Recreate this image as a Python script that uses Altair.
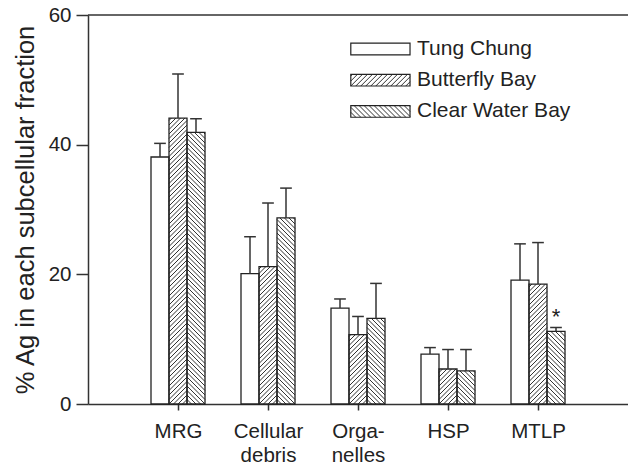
import json
import altair as alt
import pandas as pd

# ---------------- data ----------------
fractions = ["MRG", "Cellular\ndebris", "Orga-\nnelles", "HSP", "MTLP"]
sites = ["Tung Chung", "Butterfly Bay", "Clear Water Bay"]
site_hatch = ["", "/", "\\"]

tung_mean = [38.1, 20.1, 14.8, 7.7, 19.1]
tung_err = [2.1, 5.7, 1.4, 1.0, 5.6]
butterfly_mean = [44.1, 21.2, 10.7, 5.4, 18.5]
butterfly_err = [6.8, 9.8, 2.8, 3.0, 6.4]
clear_mean = [41.9, 28.7, 13.2, 5.1, 11.2]
clear_err = [2.1, 4.6, 5.4, 3.3, 0.6]

# significance marker: (fraction index, site index, text)
signif = [(4, 2, "*")]

y_ticks = [0, 20, 40, 60]
y_title = "% Ag in each subcellular fraction"

# ---------------- layout ----------------
W, H = 540, 389
X_MAX, Y_MAX = 6, 60
SX, SY = W / X_MAX, H / Y_MAX
BAR_W = 0.2
CAP = 0.065
FONT = "Liberation Sans"
INK = "#222222"

means = [tung_mean, butterfly_mean, clear_mean]
errs = [tung_err, butterfly_err, clear_err]

rows = []
for j, s in enumerate(sites):
    for i, f in enumerate(fractions):
        c = (i + 1) + (j - 1) * BAR_W
        rows.append(dict(site=s, hatch=site_hatch[j], frac=f, xc=c,
                         x0=c - BAR_W / 2, x1=c + BAR_W / 2,
                         mean=means[j][i], top=means[j][i] + errs[j][i],
                         c0=c - CAP, c1=c + CAP, base=0.0))
bars = pd.DataFrame(rows)

# legend (in data units of the plot)
LEG_X0, LEG_X1, LEG_TX = 2.92, 3.578, 3.656
LEG_TOP, LEG_STEP, LEG_H = 54.76, 4.82, 1.79
leg = pd.DataFrame([dict(site=s, hatch=site_hatch[j], x0=LEG_X0, x1=LEG_X1,
                         yc=LEG_TOP - j * LEG_STEP,
                         y0=LEG_TOP - j * LEG_STEP - LEG_H / 2,
                         y1=LEG_TOP - j * LEG_STEP + LEG_H / 2, tx=LEG_TX)
                    for j, s in enumerate(sites)])


def hatch_lines(x0, x1, y0, y1, kind, step):
    w = (x1 - x0) * SX
    h = (y1 - y0) * SY
    out = []
    if kind == "/":
        k = int(-h // step)
        while k * step < w:
            c = k * step
            a, b = max(0.0, c), min(w, h + c)
            if b > a:
                out.append((a, a - c, b, b - c))
            k += 1
    elif kind == "\\":
        k = 1
        while k * step < w + h:
            c = k * step
            a, b = max(0.0, c - h), min(w, c)
            if b > a:
                out.append((a, c - a, b, c - b))
            k += 1
    return [dict(hx0=x0 + p / SX, hy0=y0 + q / SY, hx1=x0 + r / SX, hy1=y0 + t / SY)
            for p, q, r, t in out]


hrows = []
for _, r in bars.iterrows():
    hrows += hatch_lines(r.x0, r.x1, 0.0, r["mean"], r.hatch, 4.5)
for _, r in leg.iterrows():
    hrows += hatch_lines(r.x0, r.x1, r.y0, r.y1, r.hatch, 5.0)
hatch = pd.DataFrame(hrows)

sig = pd.DataFrame([dict(x=(i + 1) + (j - 1) * BAR_W,
                         y=means[j][i] + errs[j][i] + 0.5, t=t)
                    for i, j, t in signif])

frame = pd.DataFrame([dict(x0=0, x1=X_MAX, y=Y_MAX)])

# ---------------- scales / axes ----------------
label_lists = json.dumps([f.split("\n") for f in fractions])
xs = alt.Scale(domain=[0, X_MAX], nice=False, zero=False)
ys = alt.Scale(domain=[0, Y_MAX], nice=False)

x_axis = alt.Axis(values=list(range(1, len(fractions) + 1)), title=None,
                  labelExpr=f"{label_lists}[datum.value - 1]",
                  labelFontSize=20.5, labelFont=FONT, labelColor=INK,
                  labelLineHeight=24, labelPadding=11, tickSize=6,
                  tickColor="#333", tickWidth=1.5, domainColor="#333",
                  domainWidth=1.5, grid=False, labelAngle=0)
y_axis = alt.Axis(values=y_ticks, title=y_title, titleFont=FONT,
                  titleFontSize=25.5, titleFontWeight="normal", titleColor=INK,
                  titleX=-55, titleY=H / 2, titleAlign="center",
                  titleBaseline="alphabetic", titleAngle=270,
                  labelFontSize=20.5, labelFont=FONT, labelColor=INK,
                  labelPadding=5, tickSize=12, tickColor="#333", tickWidth=1.5,
                  domainColor="#333", domainWidth=1.5, grid=False)

base = alt.Chart(bars)

fills = base.mark_rect(fill="white", strokeWidth=0).encode(
    x=alt.X("x0:Q", scale=xs, axis=x_axis), x2="x1:Q",
    y=alt.Y("mean:Q", scale=ys, axis=y_axis), y2="base:Q")

hatch_layer = alt.Chart(hatch).mark_rule(color="#333", strokeWidth=1).encode(
    x=alt.X("hx0:Q", scale=xs), x2="hx1:Q",
    y=alt.Y("hy0:Q", scale=ys), y2="hy1:Q")

outlines = base.mark_rect(fill=None, stroke=INK, strokeWidth=1.3).encode(
    x=alt.X("x0:Q", scale=xs), x2="x1:Q",
    y=alt.Y("mean:Q", scale=ys), y2="base:Q")

whisk = base.mark_rule(color="#333", strokeWidth=1.5).encode(
    x=alt.X("xc:Q", scale=xs), y=alt.Y("mean:Q", scale=ys), y2="top:Q")
caps = base.mark_rule(color="#333", strokeWidth=1.5).encode(
    x=alt.X("c0:Q", scale=xs), x2="c1:Q", y=alt.Y("top:Q", scale=ys))

stars = alt.Chart(sig).mark_text(font=FONT, fontSize=22, color=INK,
                                 baseline="alphabetic", align="center").encode(
    x=alt.X("x:Q", scale=xs), y=alt.Y("y:Q", scale=ys), text="t:N")

top_line = alt.Chart(frame).mark_rule(color="#333", strokeWidth=1.5).encode(
    x=alt.X("x0:Q", scale=xs), x2="x1:Q", y=alt.Y("y:Q", scale=ys))

leg_fill = alt.Chart(leg).mark_rect(fill="white", strokeWidth=0).encode(
    x=alt.X("x0:Q", scale=xs), x2="x1:Q", y=alt.Y("y0:Q", scale=ys), y2="y1:Q")
leg_box = alt.Chart(leg).mark_rect(fill=None, stroke=INK, strokeWidth=1.2).encode(
    x=alt.X("x0:Q", scale=xs), x2="x1:Q", y=alt.Y("y0:Q", scale=ys), y2="y1:Q")
leg_text = alt.Chart(leg).mark_text(font=FONT, fontSize=21, color=INK,
                                    align="left", baseline="middle").encode(
    x=alt.X("tx:Q", scale=xs), y=alt.Y("yc:Q", scale=ys), text="site:N")

chart = alt.layer(fills, leg_fill, hatch_layer, outlines, whisk, caps, stars,
                  top_line, leg_box, leg_text).properties(
    width=W, height=H,
    autosize=alt.AutoSizeParams(type="none"),
    padding={"left": 88, "top": 15, "right": 0, "bottom": 62},
    background="white",
).configure_view(stroke=None)

chart.save("out.html", embed_options={"renderer": "svg", "actions": False})
